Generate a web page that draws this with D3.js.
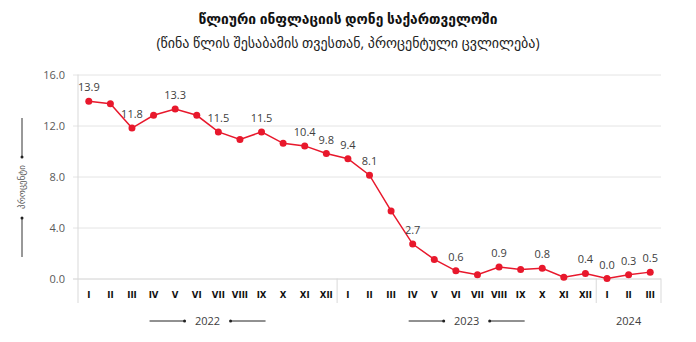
<!DOCTYPE html>
<html>
<head>
<meta charset="utf-8">
<script src="https://cdn.jsdelivr.net/npm/d3@7"></script>
<style>
  body { margin: 0; background: #fff; }
  svg text { font-family: "Open Sans", "DejaVu Sans", sans-serif; }
</style>
</head>
<body>
<div id="chart"></div>
<script>
const TITLE = "წლიური ინფლაციის დონე საქართველოში";
const SUBTITLE = "(წინა წლის შესაბამის თვესთან, პროცენტული ცვლილება)";
const Y_TITLE = "პროცენტი";

const YEARS = ["2022", "2023", "2024"];
const YEAR_MONTHS = [12, 12, 3];
const MONTHS = ["I", "II", "III", "IV", "V", "VI", "VII", "VIII", "IX", "X", "XI", "XII"];

const VALUES = [
  13.9, 13.7, 11.8, 12.8, 13.3, 12.8, 11.5, 10.9, 11.5, 10.6, 10.4, 9.8,
  9.4, 8.1, 5.3, 2.7, 1.5, 0.6, 0.3, 0.9, 0.7, 0.8, 0.1, 0.4,
  0.0, 0.3, 0.5
];
const LABELLED = [0, 2, 4, 6, 8, 10, 11, 12, 13, 15, 17, 19, 21, 23, 24, 25, 26];
const Y_TICKS = [0, 4, 8, 12, 16];

const RED = "#e8182c";

const data = [];
YEARS.forEach((yr, yi) => {
  for (let m = 0; m < YEAR_MONTHS[yi]; ++m) {
    data.push({key: yr + "-" + MONTHS[m], month: MONTHS[m], year: yr, value: VALUES[data.length]});
  }
});

const W = 696, H = 342;
const plot = {left: 78, right: 661, top: 74.5, bottom: 278.5};

const svg = d3.select("#chart").append("svg")
    .attr("width", W)
    .attr("height", H);

const x = d3.scaleBand().domain(data.map(d => d.key)).range([plot.left, plot.right]);
const y = d3.scaleLinear().domain([0, 16]).range([plot.bottom, plot.top]);

// titles
svg.append("text")
    .attr("x", W / 2).attr("y", 24)
    .attr("text-anchor", "middle")
    .style("font-size", "13.8px").style("font-weight", "bold")
    .style("fill", "#111")
    .text(TITLE);

svg.append("text")
    .attr("x", W / 2).attr("y", 48)
    .attr("text-anchor", "middle")
    .style("font-size", "14px")
    .style("fill", "#222")
    .text(SUBTITLE);

// gridlines + y axis labels
const yAxis = d3.axisLeft(y).tickValues(Y_TICKS).tickFormat(d3.format(".1f"))
    .tickSize(-(plot.right - plot.left + 5)).tickPadding(8);

const gy = svg.append("g")
    .attr("transform", "translate(" + (plot.left - 5) + ",0)")
    .call(yAxis);
gy.select(".domain").remove();
gy.selectAll(".tick line").style("stroke", "#e4e4e4");
gy.selectAll(".tick text").style("font-size", "11px").style("fill", "#595959");
gy.selectAll(".tick").filter(d => d === 0).select("line").style("stroke", "#d0d0d0");

// left axis line and year separators
svg.append("line")
    .attr("x1", plot.left).attr("x2", plot.left)
    .attr("y1", plot.top).attr("y2", 303)
    .style("stroke", "#d9d9d9");

let acc = 0;
YEAR_MONTHS.forEach(n => {
  acc += n;
  const xs = acc < data.length ? x(data[acc].key) : plot.right;
  svg.append("line")
      .attr("x1", xs).attr("x2", xs)
      .attr("y1", plot.bottom).attr("y2", 303)
      .style("stroke", "#d9d9d9");
});

// month labels
svg.append("g").selectAll("text")
    .data(data)
    .join("text")
    .attr("x", d => x(d.key) + x.bandwidth() / 2)
    .attr("y", 298)
    .attr("text-anchor", "middle")
    .style("font-family", "'DejaVu Sans Condensed', sans-serif")
    .style("font-size", "9.5px").style("font-weight", "bold")
    .style("fill", "#111")
    .text(d => d.month);

// year labels with arrows
acc = 0;
YEARS.forEach((yr, yi) => {
  const first = data[acc].key;
  const last = data[acc + YEAR_MONTHS[yi] - 1].key;
  acc += YEAR_MONTHS[yi];
  const cx = (x(first) + x(last) + x.bandwidth()) / 2;
  svg.append("text")
      .attr("x", cx).attr("y", 325)
      .attr("text-anchor", "middle")
      .style("font-size", "11px").style("fill", "#404040")
      .text(yr);
  if (YEAR_MONTHS[yi] == 12) {
    [[-58, -23], [23, 58]].forEach(([a, b], k) => {
      svg.append("line")
          .attr("x1", cx + a).attr("x2", cx + b)
          .attr("y1", 321).attr("y2", 321)
          .style("stroke", "#222").style("stroke-width", 1);
      svg.append("circle")
          .attr("cx", k == 0 ? cx + b : cx + a).attr("cy", 321).attr("r", 1.5)
          .style("fill", "#222");
    });
  }
});

// y axis title
const ty = svg.append("g").attr("transform", "translate(22,187)");
ty.append("text")
    .attr("transform", "rotate(-90)")
    .attr("dy", "0.35em")
    .attr("text-anchor", "middle")
    .style("font-size", "9px").style("fill", "#555")
    .text(Y_TITLE);
[[-69, -30], [31, 70]].forEach(([a, b], k) => {
  ty.append("line")
      .attr("x1", 0).attr("x2", 0).attr("y1", a).attr("y2", b)
      .style("stroke", "#333");
  ty.append("circle")
      .attr("cx", 0).attr("cy", k == 0 ? b : a).attr("r", 1.5)
      .style("fill", "#222");
});

// series
const line = d3.line()
    .x(d => x(d.key) + x.bandwidth() / 2)
    .y(d => y(d.value));

svg.append("path")
    .datum(data)
    .attr("d", line)
    .style("fill", "none")
    .style("stroke", RED)
    .style("stroke-width", 1.5);

svg.append("g").selectAll("circle")
    .data(data)
    .join("circle")
    .attr("cx", d => x(d.key) + x.bandwidth() / 2)
    .attr("cy", d => y(d.value))
    .attr("r", 3.5)
    .style("fill", RED);

svg.append("g").selectAll("text")
    .data(LABELLED.map(i => data[i]))
    .join("text")
    .attr("x", d => x(d.key) + x.bandwidth() / 2)
    .attr("y", d => y(d.value) - 10)
    .attr("text-anchor", "middle")
    .style("font-size", "11px").style("fill", "#404040")
    .text(d => d.value.toFixed(1));
</script>
</body>
</html>
